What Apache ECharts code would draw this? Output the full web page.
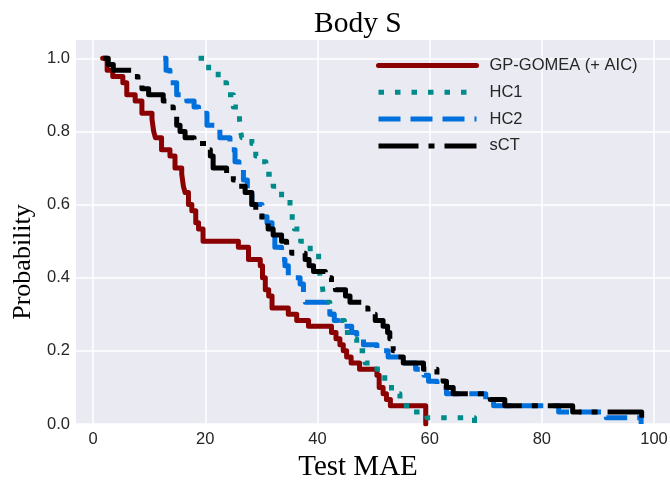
<!DOCTYPE html>
<html>
<head>
    <meta charset="utf-8">
    <script src="https://cdnjs.cloudflare.com/ajax/libs/echarts/6.0.0/echarts.min.js"></script>
</head>
<body style="margin:0; background:#fff;">
<div id="chart" style="width: 670px; height: 483px;"></div>
<script type="text/javascript">
    // Data: [test MAE where the step drops, probability after the drop]
    var seriesNames = ['GP-GOMEA (+ AIC)', 'HC1', 'HC2', 'sCT'];

    var gpGomea = [
        [1.7, 1.0], [2.5, 0.967], [3.5, 0.95], [5.3, 0.933], [6.0, 0.9], [7.5, 0.883],
        [8.7, 0.85], [10.5, 0.833], [10.8, 0.8], [11.1, 0.783], [12.2, 0.75], [13.7, 0.733], [14.6, 0.7],
        [15.8, 0.683], [16.1, 0.65], [16.4, 0.633], [17.0, 0.6], [17.6, 0.583], [18.3, 0.55], [18.8, 0.533],
        [19.6, 0.5], [25.9, 0.483], [27.7, 0.45], [29.8, 0.433], [30.2, 0.4], [30.7, 0.367],
        [31.3, 0.35], [31.9, 0.317], [34.8, 0.3], [36.3, 0.283], [38.4, 0.267], [42.5, 0.25],
        [43.3, 0.233], [44.0, 0.217], [44.6, 0.2], [45.2, 0.183], [46.0, 0.167], [47.5, 0.15],
        [50.6, 0.133], [51.0, 0.1], [51.7, 0.083], [52.3, 0.067], [53.0, 0.05], [59.3, 0.0]
    ];

    var hc1 = [
        [18.8, 1.0], [20.6, 0.967], [22.3, 0.933], [23.8, 0.9], [25.0, 0.867], [26.1, 0.833],
        [26.3, 0.8], [26.5, 0.783], [28.3, 0.767], [29.0, 0.733], [29.6, 0.717], [30.8, 0.683], [32.1, 0.65], [33.6, 0.617],
        [35.1, 0.583], [35.5, 0.55], [35.9, 0.533], [37.0, 0.5], [38.7, 0.467], [40.2, 0.433], [40.5, 0.4], [40.8, 0.383],
        [41.1, 0.35], [41.4, 0.333], [42.2, 0.3], [43.5, 0.283], [44.8, 0.25], [46.1, 0.233], [47.0, 0.2],
        [48.5, 0.167], [50.6, 0.15], [52.0, 0.117], [53.2, 0.083], [54.7, 0.05], [57.2, 0.033],
        [59.5, 0.017], [68.0, 0.0]
    ];

    var hc2 = [
        [12.5, 1.0], [13.0, 0.967], [13.7, 0.933], [14.9, 0.9], [16.7, 0.883], [18.0, 0.867],
        [18.8, 0.85], [20.3, 0.817], [22.6, 0.783], [24.4, 0.75], [25.3, 0.717], [26.0, 0.7],
        [26.8, 0.667], [27.5, 0.633], [28.3, 0.6], [30.1, 0.567], [31.0, 0.55], [31.9, 0.517],
        [32.4, 0.483], [33.6, 0.45], [34.2, 0.433], [34.8, 0.4], [36.9, 0.383], [37.5, 0.35],
        [37.8, 0.333], [41.2, 0.317], [42.2, 0.3], [43.0, 0.283], [43.7, 0.267], [46.1, 0.25],
        [47.0, 0.233], [48.2, 0.217], [50.6, 0.2], [52.6, 0.183], [54.4, 0.167], [57.5, 0.15],
        [59.0, 0.133], [59.8, 0.117], [61.3, 0.1], [63.0, 0.083], [70.0, 0.067], [71.4, 0.05],
        [83.0, 0.033], [91.5, 0.017], [97.7, 0.0]
    ];

    var sct = [
        [1.8, 1.0], [2.7, 0.983], [3.6, 0.967], [7.2, 0.95], [8.0, 0.933], [8.7, 0.917],
        [9.9, 0.9], [12.5, 0.883], [13.7, 0.867], [14.3, 0.85], [14.9, 0.817], [15.5, 0.8],
        [16.4, 0.783], [18.0, 0.767], [20.3, 0.75], [20.9, 0.733], [21.4, 0.7], [23.8, 0.683],
        [25.0, 0.667], [25.6, 0.65], [27.1, 0.633], [28.3, 0.6], [29.0, 0.583], [30.1, 0.55],
        [31.2, 0.533], [32.1, 0.517], [33.6, 0.5], [34.5, 0.483], [35.4, 0.467], [37.8, 0.45],
        [38.5, 0.433], [39.3, 0.417], [41.4, 0.4], [42.5, 0.383], [43.2, 0.367], [45.0, 0.35],
        [45.8, 0.333], [47.9, 0.317], [49.0, 0.3], [50.3, 0.283], [51.7, 0.267], [52.5, 0.25],
        [52.9, 0.233], [53.5, 0.2], [54.1, 0.183], [55.3, 0.167], [58.9, 0.15], [61.3, 0.133],
        [62.4, 0.117], [63.0, 0.1], [64.2, 0.083], [70.8, 0.067], [73.4, 0.05], [85.5, 0.033],
        [97.8, 0.0]
    ];

    var xTicks = [0, 20, 40, 60, 80, 100];
    var yTicks = [0, 0.2, 0.4, 0.6, 0.8, 1.0];

    var chart = echarts.init(document.getElementById('chart'));

    var axisText = { color: '#262626', fontSize: 16.5, fontFamily: 'Liberation Sans' };

    function stepLine(name, data, color, type, z) {
        return {
            name: name,
            type: 'line',
            step: 'end',
            data: data,
            symbol: 'none',
            showSymbol: false,
            z: z,
            lineStyle: { color: color, width: 5, type: type, cap: 'butt', join: 'round' },
            itemStyle: { color: color }
        };
    }

    var option = {
        animation: false,
        title: {
            text: 'Body S',
            left: 309,
            top: 4,
            textStyle: { fontFamily: 'Liberation Serif', fontWeight: 'normal', fontSize: 29.5, color: '#000' }
        },
        grid: {
            left: 76, right: 0, top: 40, bottom: 59,
            outerBoundsMode: 'none',
            containLabel: false,
            show: true, backgroundColor: '#EAEAF2', borderWidth: 0
        },
        legend: {
            left: 376, top: 57,
            orient: 'vertical',
            itemWidth: 98, itemHeight: 14, itemGap: 9.8,
            padding: 0,
            itemStyle: { color: 'rgba(0,0,0,0)', borderWidth: 0, opacity: 0 },
            lineStyle: { width: 5 },
            textStyle: { fontSize: 16.5, fontFamily: 'Liberation Sans', color: '#262626', padding: [0, 0, 0, 8] },
            data: seriesNames
        },
        xAxis: {
            type: 'value',
            min: -3.05, max: 102.85,
            name: 'Test MAE',
            nameLocation: 'middle',
            nameGap: 29,
            nameTextStyle: { color: '#000', fontSize: 29, fontFamily: 'Liberation Serif', padding: [0, 30, 0, 0] },
            axisLine: { show: false },
            axisTick: { show: false, customValues: xTicks },
            axisLabel: Object.assign({ customValues: xTicks, margin: 7 }, axisText),
            splitLine: { show: true, lineStyle: { color: '#fff', width: 1.5 } }
        },
        yAxis: {
            type: 'value',
            min: 0, max: 1.05,
            name: 'Probability',
            nameLocation: 'middle',
            nameGap: 33,
            nameTextStyle: { color: '#000', fontSize: 26, fontFamily: 'Liberation Serif', padding: [0, 60, 0, 0] },
            axisLine: { show: false },
            axisTick: { show: false, customValues: yTicks },
            axisLabel: Object.assign({
                customValues: yTicks, margin: 6,
                formatter: function (v) { return v.toFixed(1); }
            }, axisText),
            splitLine: { show: true, lineStyle: { color: '#fff', width: 1.5 } }
        },
        series: [
            stepLine(seriesNames[0], gpGomea, '#8B0000', 'solid', 2),
            stepLine(seriesNames[1], hc1, '#008B8B', [5.5, 11], 3),
            stepLine(seriesNames[2], hc2, '#0070DD', [22, 10], 4),
            stepLine(seriesNames[3], sct, '#000000', [40, 10, 6, 10], 5)
        ]
    };
    option.series[0].lineStyle.cap = 'round';
    chart.setOption(option);
</script>
</body>
</html>
